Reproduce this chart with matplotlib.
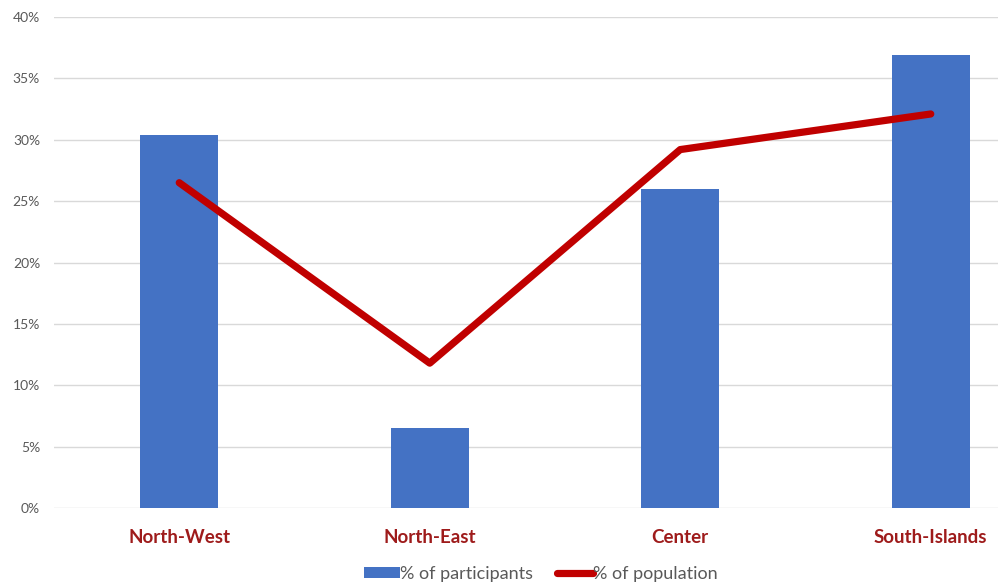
import matplotlib

matplotlib.use("Agg")
import matplotlib.pyplot as plt
from matplotlib.ticker import PercentFormatter

plt.rcParams["font.family"] = ["Lato", "DejaVu Sans"]

regions = ["North-West", "North-East", "Center", "South-Islands"]
participants = [30.4, 6.5, 26.0, 36.9]
population = [26.5, 11.8, 29.2, 32.1]
yticks = [0, 5, 10, 15, 20, 25, 30, 35, 40]

W, H = 998, 585
fig = plt.figure(figsize=(W / 100, H / 100), dpi=100)
# plot area: left edge 54px, 0% at y=508, 40% at y=17
ax = fig.add_axes([54 / W, (H - 508) / H, (W - 54) / W, (508 - 17) / H])

x = list(range(len(regions)))
bars = ax.bar(x, participants, width=0.31, color="#4472C4", label="% of participants", zorder=2)
line, = ax.plot(x, population, color="#C00000", lw=5.2, solid_capstyle="round",
                label="% of population", zorder=3)

ax.set_xlim(-0.5, (W - 54) / 250.5 - 0.5)
ax.set_ylim(0, 40)
ax.set_yticks(yticks)
ax.yaxis.set_major_formatter(PercentFormatter(decimals=0))
ax.grid(axis="y", color="#D9D9D9", lw=1, zorder=0)
for s in ax.spines.values():
    s.set_visible(False)
ax.tick_params(axis="y", length=0, labelsize=10, labelcolor="#595959", pad=10)
ax.tick_params(axis="x", length=0, pad=15)
ax.set_xticks(x)
ax.set_xticklabels(regions, fontsize=13.5, fontweight="bold", color="#9E1B1B")

leg = fig.legend([bars, line], ["% of participants", "% of population"],
                 loc="center", bbox_to_anchor=(541 / W, 1 - 574 / H), ncol=2,
                 frameon=False, fontsize=13, handlelength=2.0, handleheight=0.5,
                 handletextpad=0.0, columnspacing=1.3)
for t in leg.get_texts():
    t.set_color("#595959")

fig.savefig("out.png", dpi=100)
